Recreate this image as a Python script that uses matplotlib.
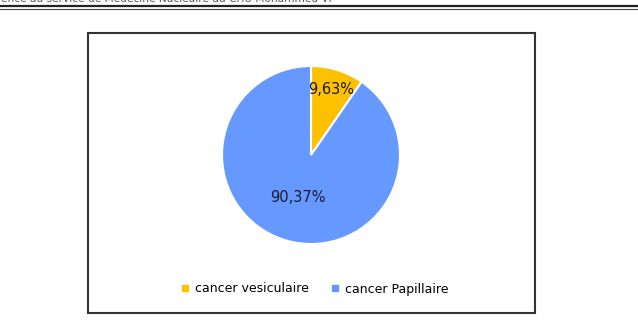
import numpy as np
import matplotlib
matplotlib.use("Agg")
import matplotlib.pyplot as plt
from matplotlib.patches import Rectangle
from matplotlib.lines import Line2D

# data
labels = ["cancer vesiculaire", "cancer Papillaire"]
values = [9.63, 90.37]
value_text = ["9,63%", "90,37%"]
colors = ["#FFC000", "#6699FF"]
header = "ience au service de Médecine Nucléaire du CHU Mohammed VI"

W, H = 638, 325
fig = plt.figure(figsize=(W / 100, H / 100), dpi=100)

# cut-off page header and double rule
fig.text(-0.003, 1 - 1.5 / H, header, fontsize=7.6, color="#555555",
         va="baseline", ha="left")
fig.add_artist(Line2D([0, 1], [1 - 5.5 / H, 1 - 5.5 / H], color="#222222", lw=1.6))
fig.add_artist(Line2D([0, 1], [1 - 8.5 / H, 1 - 8.5 / H], color="#444444", lw=0.8))

# chart frame
fig.add_artist(Rectangle((88 / W, 1 - 313 / H), (535 - 88) / W, (313 - 33) / H,
                         transform=fig.transFigure, fill=False,
                         edgecolor="#333333", lw=1.5))

ax = fig.add_axes([222 / W, 1 - 244 / H, 178 / W, 178 / H])
wedges, _ = ax.pie(values, colors=colors, startangle=90, counterclock=False,
                   wedgeprops=dict(edgecolor="white", linewidth=1.5))
ax.set_aspect("equal")
ax.set_xlim(-1, 1)
ax.set_ylim(-1, 1)

# value labels inside slices
label_r = [0.77, 0.5]
for w, txt, r in zip(wedges, value_text, label_r):
    ang = np.deg2rad((w.theta1 + w.theta2) / 2)
    ax.text(r * np.cos(ang), r * np.sin(ang), txt, ha="center", va="center",
            fontsize=10.5, color="#1a1a2e")

handles = [Line2D([], [], marker="s", linestyle="", markersize=5,
                  markerfacecolor=c, markeredgecolor=c) for c in colors]
fig.legend(handles, labels, loc="center", bbox_to_anchor=(314 / W, 1 - 289 / H),
           ncol=2, frameon=False, fontsize=9, handlelength=0.8,
           handletextpad=0.4, columnspacing=1.7)

fig.savefig("out.png", dpi=100)
